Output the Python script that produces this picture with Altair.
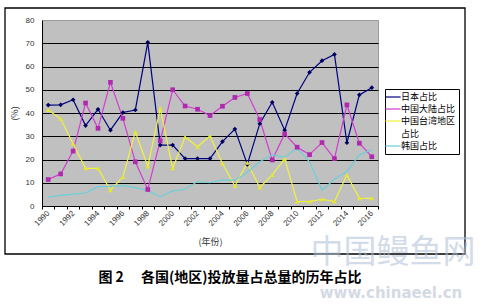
import altair as alt
import pandas as pd

# ---- data ----
years = list(range(1990, 2017))
japan = [43.4, 43.5, 45.7, 34.6, 41.6, 32.6, 40.2, 41.3, 70.4, 26.2, 26.2, 20.4, 20.4, 20.4,
         27.7, 33.1, 17.9, 35.4, 44.6, 32.6, 48.4, 57.5, 62.5, 65.2, 27.2, 47.8, 50.9]
china = [11.4, 13.8, 23.6, 44.3, 33.4, 53.2, 37.7, 19.0, 7.1, 28.0, 50.0, 43.0, 41.6, 38.9,
         42.9, 46.7, 48.4, 37.2, 19.8, 31.0, 25.3, 22.1, 27.3, 20.4, 43.5, 27.0, 21.2]
taiwan = [41.3, 37.5, 26.8, 16.2, 16.2, 6.8, 12.5, 31.9, 17.0, 42.0, 16.2, 29.7, 25.5, 30.1,
          18.3, 8.6, 18.6, 8.0, 13.4, 20.3, 2.0, 1.9, 2.9, 1.9, 13.3, 3.4, 3.3]
korea = [3.8, 4.6, 5.1, 5.6, 8.3, 8.4, 8.8, 7.9, 6.7, 4.0, 6.5, 7.2, 10.5, 10.0,
         11.2, 11.0, 14.5, 19.0, 22.0, 21.0, 24.8, 19.0, 6.8, 11.5, 14.8, 22.0, 24.3]

series_names = ["日本占比", "中国大陆占比", "中国台湾地区占比", "韩国占比"]
y_ticks = [0, 10, 20, 30, 40, 50, 60, 70, 80]

x_title = "(年份)"
y_title = "(%)"
caption = "图 2\u3000 各国(地区)投放量占总量的历年占比"
watermark_cn = "中国鳗鱼网"
watermark_url = "www.chinaeel.cn"

# ---- styles ----
line_colors = ["#000080", "#D23CD2", "#F2F23C", "#6CCFD8"]
line_widths = [1.2, 1.2, 1.2, 3.5]
marker_colors = ["#000060", "#B02AB0", "#E6E62E"]
marker_shapes = ["diamond", "square", "triangle-up"]
CJK = "Noto Sans CJK SC"

rows = []
for name, vals in zip(series_names, [japan, china, taiwan, korea]):
    for yr, v in zip(years, vals):
        rows.append({"year": yr, "series": name, "value": v})
df = pd.DataFrame(rows)

x_enc = alt.X(
    "year:O",
    scale=alt.Scale(type="band", paddingInner=0, paddingOuter=0),
    bandPosition=0.5,
    title=x_title,
    axis=alt.Axis(
        labelAngle=-45, labelAlign="right", labelBaseline="middle",
        labelExpr="datum.value % 2 == 0 ? datum.label : ''",
        labelOverlap=False, tickBand="extent", tickSize=3, tickColor="black",
        domainColor="black", labelFontSize=8, labelColor="#333333",
        labelFont="Liberation Sans", labelPadding=3,
        titleFont=CJK, titleFontSize=9, titleFontWeight="normal",
        titleColor="#333333", titlePadding=10, grid=False,
    ),
)
y_enc = alt.Y(
    "value:Q",
    scale=alt.Scale(domain=[0, 80], nice=False),
    title=y_title,
    axis=alt.Axis(
        values=y_ticks, grid=True,
        gridColor={"condition": {"test": "datum.value == 80", "value": "transparent"}, "value": "black"},
        gridWidth=1, ticks=False, labelPadding=8, labelFontSize=8,
        labelColor="#333333", labelFont="Liberation Sans",
        domainColor="black", titleFont=CJK, titleFontSize=9,
        titleFontWeight="normal", titleColor="#333333", titlePadding=6,
    ),
)

lines = alt.Chart(df).mark_line().encode(
    x=x_enc,
    y=y_enc,
    color=alt.Color(
        "series:N",
        scale=alt.Scale(domain=series_names, range=line_colors),
        legend=alt.Legend(
            title=None, orient="none", legendX=343, legendY=69,
            symbolType="M-1.9,0H1.9", symbolSize=64, symbolStrokeWidth=1.5,
            labelFont=CJK, labelFontSize=9, labelColor="black", labelLimit=200,
            labelExpr="datum.label == '中国台湾地区占比' ? ['中国台湾地区', '占比'] : datum.label",
            labelOffset=3, strokeColor="black", fillColor="white", padding=3,
            rowPadding=2, gridAlign="each",
        ),
    ),
    strokeWidth=alt.StrokeWidth(
        "series:N", scale=alt.Scale(domain=series_names, range=line_widths), legend=None
    ),
)

points = alt.Chart(df).transform_filter(
    "datum.series != '韩国占比'"
).mark_point(filled=True, size=22, opacity=1, strokeWidth=0).encode(
    x=x_enc,
    y=y_enc,
    fill=alt.Fill("series:N", scale=alt.Scale(domain=series_names[:3], range=marker_colors), legend=None),
    shape=alt.Shape("series:N", scale=alt.Scale(domain=series_names[:3], range=marker_shapes), legend=None),
)

one = pd.DataFrame({"k": [0]})
box = alt.Chart(one).mark_rect(fillOpacity=0, stroke="black", strokeWidth=1.3).encode(
    x=alt.value(-37), x2=alt.value(423), y=alt.value(-12), y2=alt.value(234)
)

cap = alt.Chart(pd.DataFrame({"t": [caption]})).mark_text(
    font=CJK, fontSize=14, fontWeight="bold", align="center", baseline="middle", color="black"
).encode(x=alt.value(188), y=alt.value(258), text="t:N")

wm1 = alt.Chart(pd.DataFrame({"t": [watermark_cn]})).mark_text(
    font=CJK, fontSize=33, align="center", baseline="middle", color="#AFC0D8", opacity=0.55
).encode(x=alt.value(351), y=alt.value(233), text="t:N")

wm2 = alt.Chart(pd.DataFrame({"t": [watermark_url]})).mark_text(
    font="DejaVu Sans", fontSize=15, fontWeight="bold", align="center", baseline="middle",
    color="#B8C2D2", opacity=0.6
).encode(x=alt.value(349), y=alt.value(273), text="t:N")

chart = alt.layer(box, lines, points, cap, wm1, wm2).resolve_scale(
    fill="independent", shape="independent"
).properties(
    width=336, height=186, autosize="none",
    padding={"left": 42, "top": 20, "right": 113, "bottom": 100},
    background="white",
).configure(
    style={"guide-label": {"lineHeight": 13}},
).configure_view(fill="#C0C0C0", stroke="#9A9A9A")

chart.save("out.html", embed_options={"renderer": "svg", "actions": False})
